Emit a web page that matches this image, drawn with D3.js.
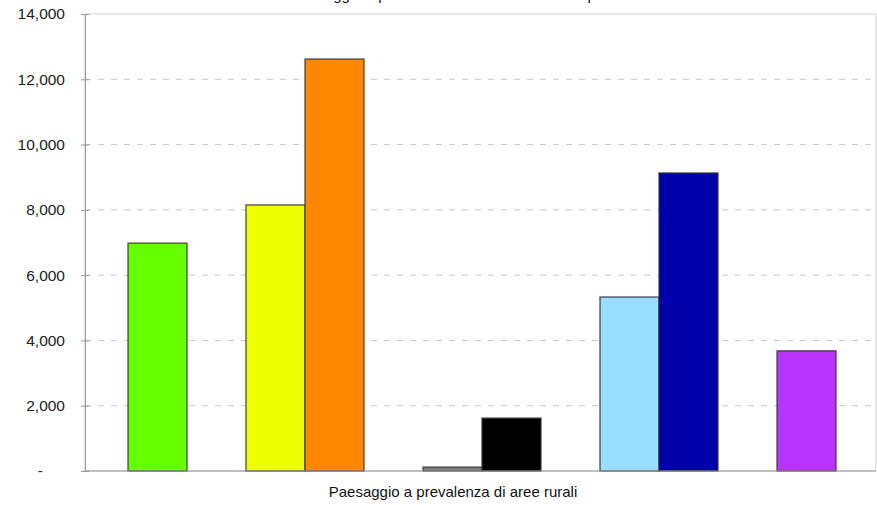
<!DOCTYPE html>
<html><head><meta charset="utf-8">
<script src="https://cdn.jsdelivr.net/npm/d3@7"></script>
<style>body{margin:0;background:#fff;}svg{display:block;font-family:"Liberation Sans",Arial,sans-serif;}</style>
</head><body><svg id="c" width="877" height="505"></svg>
<script>
const category = "Paesaggio a prevalenza di aree rurali";
const titleText = "Paesaggio a prevalenza di tessuto urbano e periurbano";
const seriesNames = ["S1","gap1","S2","S3","gap2","S4","S5","gap3","S6","S7","gap4","S8"];
const seriesValues = [6980, null, 8150, 12620, null, 120, 1620, null, 5330, 9130, null, 3680];
const seriesColors = ["#66ff00", null, "#eeff00", "#ff8800", null, "#808080", "#000000", null, "#99ddff", "#0000aa", null, "#bb33ff"];
const yTicks = [0, 2000, 4000, 6000, 8000, 10000, 12000, 14000];

const svg = d3.select("#c");
const m = {left: 85, right: 876, top: 14, bottom: 471};
const y = d3.scaleLinear().domain([0, 14000]).range([m.bottom, m.top]);
const x0 = d3.scaleBand().domain([category]).range([m.left, m.right]).paddingInner(0).paddingOuter(0);
const catW = x0.bandwidth();
const gapW = 43;
const x1 = d3.scaleBand().domain(seriesNames).range([gapW, catW - gapW + 3]).padding(0);

// frame
svg.append("rect").attr("x", m.left).attr("y", m.top).attr("width", m.right - m.left).attr("height", m.bottom - m.top)
  .attr("fill", "#fff").attr("stroke", "#d0d0d0").attr("stroke-width", 1);

// gridlines
svg.append("g").selectAll("line").data(yTicks.filter(d => d > 0 && d < 14000)).join("line")
  .attr("x1", m.left).attr("x2", m.right).attr("y1", d => y(d)).attr("y2", d => y(d))
  .attr("stroke", "#c8c8c8").attr("stroke-dasharray", "6,7").attr("stroke-width", 1);

// bars
const g = svg.append("g").attr("transform", `translate(${x0(category)},0)`);
const barData = seriesNames.map((s, i) => ({s, v: seriesValues[i], c: seriesColors[i]})).filter(d => d.v != null);
g.selectAll("rect").data(barData).join("rect")
  .attr("x", d => x1(d.s)).attr("width", x1.bandwidth())
  .attr("y", d => y(d.v)).attr("height", d => y(0) - y(d.v))
  .attr("fill", d => d.c).attr("stroke", "#333").attr("stroke-opacity", 0.75).attr("stroke-width", 1.5);

// y axis
const yAxis = d3.axisLeft(y).tickValues(yTicks).tickSize(4)
  .tickFormat(d => d === 0 ? "-" : d3.format(",")(d));
const ya = svg.append("g").attr("transform", `translate(${m.left},0)`).call(yAxis);
ya.select(".domain").attr("stroke", "#999");
ya.selectAll(".tick line").attr("stroke", "#999").attr("x2", -4).attr("x1", 4);
ya.selectAll(".tick text").attr("x", -20).attr("font-size", 15.5).attr("fill", "#222")
  .attr("font-family", "Liberation Sans, Arial, sans-serif")
  .filter(d => d === 0).attr("x", -42);

// baseline
svg.append("line").attr("x1", m.left).attr("x2", m.right).attr("y1", y(0)).attr("y2", y(0)).attr("stroke", "#999");

// category label
svg.append("text").attr("x", 453).attr("y", 497).attr("text-anchor", "middle").attr("font-size", 15)
  .attr("fill", "#111").text(category);

// title (cut off at top, as in the reference)
svg.append("text").attr("x", 475).attr("y", 0).attr("text-anchor", "middle").attr("font-size", 15)
  .attr("fill", "#111").text(titleText);
</script></body></html>
